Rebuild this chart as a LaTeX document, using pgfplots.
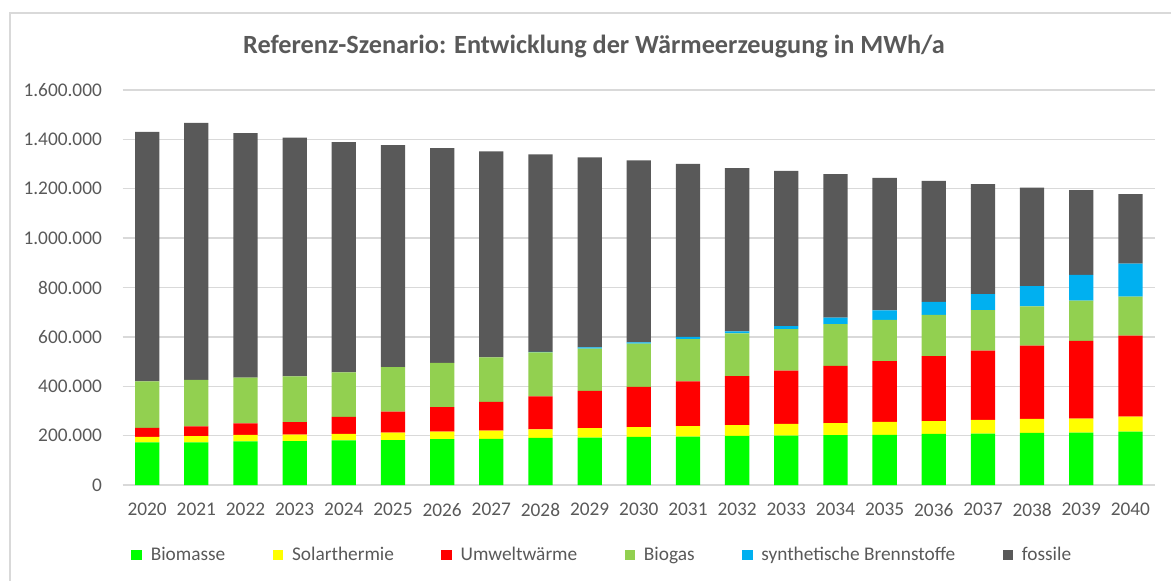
\documentclass[border=0pt]{standalone}
\usepackage{pgfplots}
\pgfplotsset{compat=1.18}
\usepackage{pgfplotstable}
\usepackage{fontspec}
\setmainfont{Carlito}
\definecolor{txt}{HTML}{595959}
\definecolor{gridc}{HTML}{D9D9D9}
\definecolor{cBio}{HTML}{00FF00}
\definecolor{cSol}{HTML}{FFFF00}
\definecolor{cUmw}{HTML}{FF0000}
\definecolor{cGas}{HTML}{92D050}
\definecolor{cSyn}{HTML}{00B0F0}
\definecolor{cFos}{HTML}{595959}

\pgfplotstableread{
x bio sol umw gas syn fos
0 173000 22000 36000 189000 0 1010000
1 173000 25000 39000 189000 0 1041000
2 177000 26000 47000 185000 0 990000
3 178000 26000 51000 185000 0 967000
4 181000 26000 69000 180000 0 933000
5 182000 30000 85000 180000 0 900000
6 186000 30000 99000 180000 0 870000
7 187000 33000 117000 180000 0 834000
8 191000 34000 134000 178000 2500 800000
9 192000 38000 151000 171000 5000 770000
10 195000 39000 163000 176000 5000 737000
11 196000 43000 181000 171000 9000 701000
12 199000 44000 198000 173000 8000 662000
13 200000 48000 215000 168000 13000 628000
14 202000 49000 232000 169000 26000 581000
15 203000 53000 246000 167000 38000 537000
16 207000 52000 263000 167000 53000 490000
17 208000 56000 280000 164000 65000 446000
18 211000 57000 297000 159000 82000 399000
19 212000 57000 315000 163000 104000 343000
20 216000 61000 328000 158000 134000 281000
}\datatable

\begin{document}
\begin{tikzpicture}
\path[use as bounding box] (0pt,0pt) rectangle (878.25pt,-435.75pt);
\draw[gridc, line width=1pt] (7.5pt,-435.75pt) -- (7.5pt,-9.75pt) -- (878.25pt,-9.75pt);
\node[font=\fontsize{19.7pt}{22pt}\selectfont\bfseries, text=txt] at (445.5pt,-35.25pt) {Referenz-Szenario: Entwicklung der Wärmeerzeugung in MWh/a};
\begin{axis}[
  at={(91.95pt,-363.75pt)}, anchor=south west,
  scale only axis, width=774.3pt, height=296.25pt,
  ybar stacked, bar width=18.2pt,
  xmin=-0.5, xmax=20.5, ymin=0, ymax=1600000,
  xtick=data,
  xticklabels={2020,2021,2022,2023,2024,2025,2026,2027,2028,2029,2030,2031,2032,2033,2034,2035,2036,2037,2038,2039,2040},
  ytick={0,200000,400000,600000,800000,1000000,1200000,1400000,1600000},
  scaled y ticks=false,
  /pgf/number format/fixed,
  /pgf/number format/1000 sep={.},
  /pgf/number format/assume math mode=true,
  ticklabel style={font=\fontsize{14.5pt}{17pt}\selectfont, text=txt},
  yticklabel style={xshift=-12pt},
  xticklabel style={yshift=-10pt},
  major tick length=0pt, tick style={draw=none},
  axis line style={draw=none},
  ymajorgrids, grid style={gridc, line width=1pt},
  legend columns=6,
  legend style={at={(0.465,-0.177)}, anchor=center, draw=none, fill=none, font=\fontsize{14.5pt}{17pt}\selectfont, text=txt,
     /tikz/every odd column/.append style={column sep=4.5pt},
     /tikz/every even column/.append style={column sep=33.5pt}},
  legend image code/.code={\fill[#1] (0pt,-4pt) rectangle (8pt,4pt);},
]
\addplot[fill=cBio, draw=none] table[x=x, y=bio] {\datatable};
\addplot[fill=cSol, draw=none] table[x=x, y=sol] {\datatable};
\addplot[fill=cUmw, draw=none] table[x=x, y=umw] {\datatable};
\addplot[fill=cGas, draw=none] table[x=x, y=gas] {\datatable};
\addplot[fill=cSyn, draw=none] table[x=x, y=syn] {\datatable};
\addplot[fill=cFos, draw=none] table[x=x, y=fos] {\datatable};
\legend{Biomasse, Solarthermie, Umweltwärme, Biogas, synthetische Brennstoffe, fossile}
\end{axis}
\end{tikzpicture}
\end{document}
